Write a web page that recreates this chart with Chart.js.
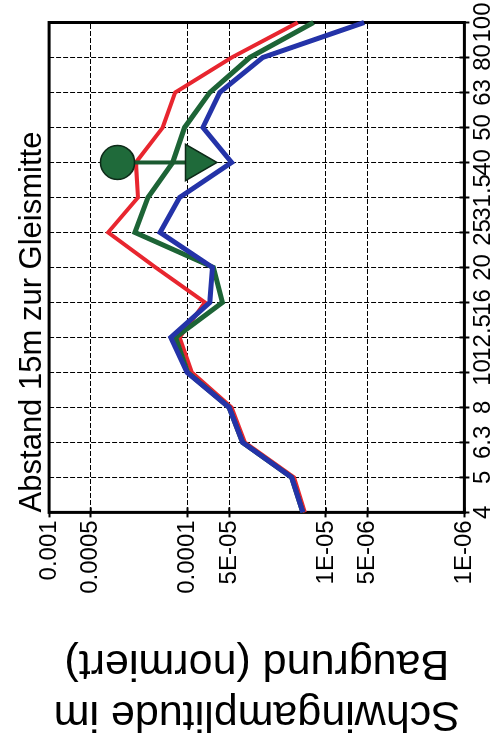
<!DOCTYPE html>
<html>
<head>
<meta charset="utf-8">
<title>Schwingamplitude im Baugrund</title>
<script src="https://cdn.jsdelivr.net/npm/chart.js@4.4.1/dist/chart.umd.min.js"></script>
<style>
  html, body { margin: 0; padding: 0; background: #fff; overflow: hidden; }
  /* chart is drawn upright and then turned a quarter turn counter-clockwise */
  #wrap {
    position: absolute; left: 0; top: 0;
    width: 754px; height: 497px;
    transform-origin: 0 0;
    transform: translateY(754px) rotate(-90deg);
  }
</style>
</head>
<body>
<div id="wrap"><canvas id="myChart" width="754" height="497"></canvas></div>
<script>
// Terzband-Mittenfrequenzen (Hz)
const frequencies = ['4', '5', '6.3', '8', '10', '12.5', '16', '20', '25', '31.5', '40', '50', '63', '80', '100'];

// normierte Schwingamplituden je Kurve
const redValues   = [1.42e-5, 1.7e-5, 3.85e-5, 4.8e-5, 9.3e-5, 1.14e-4, 7.5e-5, 1.7e-4, 3.75e-4, 2.28e-4, 2.36e-4, 1.51e-4, 1.23e-4, 4.8e-5, 1.6e-5];
const greenValues = [1.47e-5, 1.77e-5, 4.0e-5, 5.0e-5, 1.0e-4, 1.22e-4, 5.6e-5, 6.5e-5, 2.4e-4, 1.93e-4, 1.28e-4, 1.05e-4, 6.9e-5, 3.55e-5, 1.23e-5];
const blueValues  = [1.47e-5, 1.77e-5, 4.0e-5, 5.0e-5, 1.01e-4, 1.32e-4, 6.9e-5, 6.6e-5, 1.58e-4, 1.14e-4, 4.8e-5, 7.75e-5, 5.85e-5, 2.86e-5, 5.3e-6];

// Achsenteilung
const amplitudeTicks = [1e-6, 5e-6, 1e-5, 5e-5, 1e-4, 5e-4, 1e-3];
const amplitudeTickLabels = ['1E-06', '5E-06', '1E-05', '5E-05', '0.0001', '0.0005', '0.001'];

// Pfeil (Kreis -> Spitze) bei 40 Hz
const markerFrequency = '40';
const markerValues = [3.2e-4, 8.7e-5];

Chart.defaults.font.family = "'Liberation Sans', Arial, sans-serif";
Chart.defaults.color = '#000';

// frame round the plot and the inner halves of the tick marks
const frameTicks = {
  id: 'frameTicks',
  beforeDatasetsDraw(chart) {
    const { ctx, chartArea: a, scales: { x, y } } = chart;
    ctx.save();
    ctx.strokeStyle = '#000';
    ctx.lineWidth = 2;
    ctx.beginPath();
    x.ticks.forEach((t, i) => {
      const px = x.getPixelForTick(i);
      ctx.moveTo(px, a.bottom);
      ctx.lineTo(px, a.bottom - 5);
    });
    y.ticks.forEach((t, i) => {
      const py = y.getPixelForTick(i);
      ctx.moveTo(a.left, py);
      ctx.lineTo(a.left + 5, py);
    });
    ctx.stroke();
    ctx.lineWidth = 3;
    ctx.strokeRect(a.left, a.top, a.right - a.left, a.bottom - a.top);
    ctx.restore();
  }
};

const ctx = document.getElementById('myChart').getContext('2d');
new Chart(ctx, {
  type: 'line',
  data: {
    labels: frequencies,
    datasets: [
      {
        label: 'Pfeil',
        data: markerValues.map(v => ({ x: markerFrequency, y: v })),
        borderColor: '#1b5a31',
        borderWidth: 4,
        pointStyle: ['circle', 'triangle'],
        pointRadius: [17, 21],
        pointRotation: [0, 180],
        pointBackgroundColor: '#1f6a3a',
        pointBorderColor: '#0d2a18',
        pointBorderWidth: 1.5
      },
      {
        label: 'blau',
        data: blueValues,
        borderColor: '#2433a8',
        borderWidth: 5,
        pointRadius: 0
      },
      {
        label: 'gruen',
        data: greenValues,
        borderColor: '#1d6436',
        borderWidth: 5,
        pointRadius: 0
      },
      {
        label: 'rot',
        data: redValues,
        borderColor: '#e8262f',
        borderWidth: 4,
        pointRadius: 0
      }
    ]
  },
  options: {
    responsive: false,
    animation: false,
    devicePixelRatio: 1,
    layout: { padding: { left: 4, right: 17, top: 0, bottom: 0 } },
    plugins: {
      legend: { display: false },
      tooltip: { enabled: false },
      title: {
        display: true,
        text: 'Abstand 15m zur Gleismitte',
        align: 'start',
        fullSize: false,
        color: '#000',
        font: { size: 31, weight: 'normal', lineHeight: 1.1 },
        padding: { top: 15, bottom: 0 }
      }
    },
    scales: {
      x: {
        type: 'category',
        offset: false,
        grid: {
          color: '#000',
          lineWidth: 1,
          tickLength: 5,
          tickColor: '#000',
          tickWidth: 2,
          tickBorderDash: []
        },
        border: { display: false, dash: [5, 2] },
        ticks: {
          autoSkip: false,
          maxRotation: 0,
          minRotation: 0,
          padding: 0,
          color: '#000',
          font: { size: 24, lineHeight: 1.15 }
        }
      },
      y: {
        type: 'logarithmic',
        min: 1e-6,
        max: 1e-3,
        afterBuildTicks: (scale) => {
          scale.ticks = amplitudeTicks.map(v => ({ value: v }));
        },
        grid: {
          color: '#000',
          lineWidth: 1,
          tickLength: 5,
          tickColor: '#000',
          tickWidth: 2,
          tickBorderDash: []
        },
        border: { display: false, dash: [5, 2] },
        ticks: {
          autoSkip: false,
          padding: 3,
          color: '#000',
          font: { size: 24 },
          callback: (value, index) => amplitudeTickLabels[index]
        },
        title: {
          display: true,
          text: ['Schwingamplitude im', 'Baugrund (normiert)'],
          color: '#000',
          font: { size: 43, lineHeight: 1.2 },
          padding: { top: 10, bottom: 40 }
        }
      }
    }
  },
  plugins: [frameTicks]
});
</script>
</body>
</html>
